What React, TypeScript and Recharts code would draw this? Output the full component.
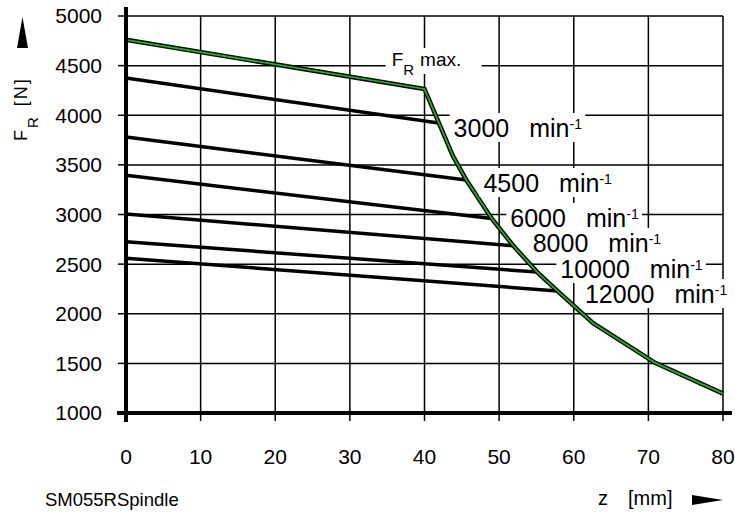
import {
  CartesianGrid,
  Line,
  LineChart,
  ReferenceDot,
  ReferenceLine,
  XAxis,
  YAxis,
} from "recharts";

const zTicks = [0, 10, 20, 30, 40, 50, 60, 70, 80];
const fTicks = [1000, 1500, 2000, 2500, 3000, 3500, 4000, 4500, 5000];

// F_R max. envelope
const maxZ = [0, 40, 43.8, 45.6, 49, 51.9, 55.1, 57.8, 62.6, 70.9, 80];
const maxF = [4760, 4265, 3590, 3348, 2960, 2685, 2420, 2230, 1905, 1505, 1195];

// speed lines, from z = 0 to the envelope
const speeds = ["3000", "4500", "6000", "8000", "10000", "12000"];
const speedStartF = [4375, 3780, 3395, 3005, 2725, 2560];
const speedEndZ = [41.9, 45.6, 49, 51.9, 55.1, 57.8];
const speedEndF = [3922, 3348, 2960, 2685, 2420, 2230];

// where the speed texts sit (start of text, baseline)
const labelZ = [43.9, 47.9, 51.5, 54.5, 58.2, 61.5];
const labelF = [3781, 3227, 2874, 2622, 2360, 2108];

const maxData = maxZ.map((z, i) => ({ z, f: maxF[i] }));
const speedData = speeds.map((_, i) => [
  { z: 0, f: speedStartF[i] },
  { z: speedEndZ[i], f: speedEndF[i] },
]);

const FONT = "Liberation Sans";
const tickStyle = { fill: "#000", fontSize: 21, fontFamily: FONT };

const LABEL_FS = 25;

// white box behind a label so the grid breaks around it
const SpeedBox = ({ cx, cy, speed }: { cx: number; cy: number; speed: string }) => (
  <rect
    x={cx - 4}
    y={cy - 24}
    width={speed.length * 13.9 + 80}
    height={29}
    fill="#fff"
  />
);

const SpeedText = ({ cx, cy, speed }: { cx: number; cy: number; speed: string }) => (
  <text x={cx} y={cy} fontFamily={FONT} fontSize={LABEL_FS} fill="#000">
    {speed}
    <tspan dx={20}>min</tspan>
    <tspan dy={-8} fontSize={14}>-1</tspan>
  </text>
);

const MaxLabel = ({ cx, cy }: { cx: number; cy: number }) => (
  <g>
    <rect x={cx - 6} y={cy - 18} width={96} height={26} fill="#fff" />
    <text x={cx} y={cy} fontFamily={FONT} fontSize={19} fill="#000">
      F
      <tspan dy={9} fontSize={15}>R</tspan>
      <tspan dy={-9} dx={6}>max.</tspan>
    </text>
  </g>
);

export default function App() {
  return (
    <div
      style={{
        position: "absolute",
        left: 0,
        top: 0,
        width: 735,
        height: 513,
        background: "#fff",
      }}
    >
      <LineChart
        width={735}
        height={513}
        margin={{ top: 15, right: 11, left: 0, bottom: 0 }}
      >
        <CartesianGrid stroke="#000" strokeWidth={1.5} />
        <XAxis
          dataKey="z"
          type="number"
          domain={[0, 80]}
          ticks={zTicks}
          height={100}
          axisLine={false}
          tickSize={8}
          tickMargin={28}
          tickLine={{ stroke: "#000", strokeWidth: 1.5 }}
          tick={tickStyle}
        />
        <XAxis
          xAxisId="top"
          orientation="top"
          type="number"
          domain={[0, 80]}
          ticks={zTicks}
          height={1}
          axisLine={false}
          tickSize={8}
          tickLine={{ stroke: "#000", strokeWidth: 1.5 }}
          tick={false}
        />
        <YAxis
          dataKey="f"
          type="number"
          domain={[1000, 5000]}
          ticks={fTicks}
          width={126}
          axisLine={false}
          tickSize={8}
          tickMargin={16}
          tickLine={{ stroke: "#000", strokeWidth: 1.5 }}
          tick={tickStyle}
        />
        <YAxis
          yAxisId="right"
          orientation="right"
          type="number"
          domain={[1000, 5000]}
          ticks={fTicks}
          width={1}
          axisLine={false}
          tickSize={8}
          tickLine={{ stroke: "#000", strokeWidth: 1.5 }}
          tick={false}
        />
        {speedData.map((d, i) => (
          <Line
            key={speeds[i]}
            data={d}
            dataKey="f"
            type="linear"
            stroke="#000"
            strokeWidth={3.5}
            dot={false}
            isAnimationActive={false}
          />
        ))}
        <Line
          data={maxData}
          dataKey="f"
          type="linear"
          stroke="#000"
          strokeWidth={4.5}
          dot={false}
          isAnimationActive={false}
        />
        <Line
          data={maxData}
          dataKey="f"
          type="linear"
          stroke="#22b022"
          strokeWidth={1.8}
          dot={false}
          isAnimationActive={false}
        />
        <ReferenceLine
          segment={[{ x: 0, y: 910 }, { x: 0, y: 5090 }]}
          stroke="#000"
          strokeWidth={4}
          ifOverflow="visible"
        />
        <ReferenceLine
          segment={[{ x: -1.2, y: 1000 }, { x: 81.2, y: 1000 }]}
          stroke="#000"
          strokeWidth={4}
          ifOverflow="visible"
        />
        <ReferenceDot
          x={35.6}
          y={4496}
          r={0}
          ifOverflow="visible"
          shape={(p: any) => <MaxLabel cx={p.cx} cy={p.cy} />}
        />
        {speeds.map((s, i) => (
          <ReferenceDot
            key={"b" + s}
            x={labelZ[i]}
            y={labelF[i]}
            r={0}
            ifOverflow="visible"
            shape={(p: any) => <SpeedBox cx={p.cx} cy={p.cy} speed={s} />}
          />
        ))}
        {speeds.map((s, i) => (
          <ReferenceDot
            key={"t" + s}
            x={labelZ[i]}
            y={labelF[i]}
            r={0}
            ifOverflow="visible"
            shape={(p: any) => <SpeedText cx={p.cx} cy={p.cy} speed={s} />}
          />
        ))}
      </LineChart>
      <svg
        width={735}
        height={513}
        style={{ position: "absolute", left: 0, top: 0, pointerEvents: "none" }}
      >
        <polygon points="17,48 28,48 22.5,17" fill="#000" />
        <text
          transform="translate(27,141) rotate(-90)"
          fontFamily={FONT}
          fontSize={18}
          fill="#000"
          letterSpacing={2}
        >
          F
          <tspan dy={11} fontSize={15}>R</tspan>
          <tspan dy={-11} dx={9}>[N]</tspan>
        </text>
        <text x={598} y={505} fontFamily={FONT} fontSize={20} fill="#000">
          z<tspan x={628}>[mm]</tspan>
        </text>
        <polygon points="692,495 692,505 723,500" fill="#000" />
        <text x={45} y={506} fontFamily={FONT} fontSize={18.5} fill="#000">
          SM055RSpindle
        </text>
      </svg>
    </div>
  );
}
